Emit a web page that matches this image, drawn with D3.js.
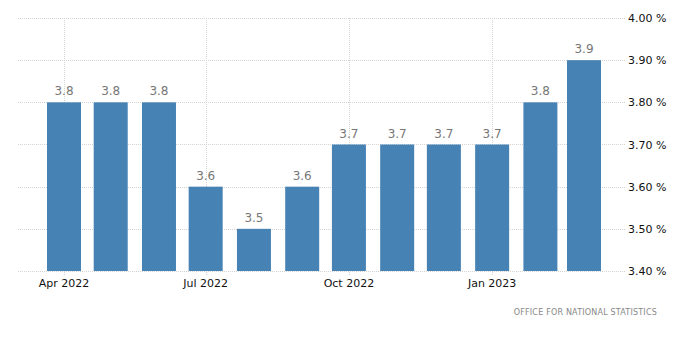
<!DOCTYPE html>
<html>
<head>
<meta charset="utf-8">
<script src="https://cdn.jsdelivr.net/npm/d3@7"></script>
<style>
  body { margin: 0; background: white; }
</style>
</head>
<body>
<div class="canvas"></div>
<script>
// data
const months = ["2022-04", "2022-05", "2022-06", "2022-07", "2022-08", "2022-09",
                "2022-10", "2022-11", "2022-12", "2023-01", "2023-02", "2023-03"];
const rates = [3.8, 3.8, 3.8, 3.6, 3.5, 3.6, 3.7, 3.7, 3.7, 3.7, 3.8, 3.9];
const xTicks = ["2022-04", "2022-07", "2022-10", "2023-01"];
const yTicks = [3.4, 3.5, 3.6, 3.7, 3.8, 3.9, 4.0];

const width = 700, height = 363;
const parse = d3.timeParse('%Y-%m');
const fmt = d3.timeFormat('%b %Y');

const svg = d3.select('.canvas')
  .append('svg')
    .attr('width', width)
    .attr('height', height)
    .style('font-family', "Tahoma, 'DejaVu Sans', sans-serif");

// scales (bars sit on real dates, so Feb is a bit narrower)
const x = d3.scaleTime()
  .domain([parse(months[0]), parse(months[months.length - 1])])
  .range([64, 584]);
const barWidth = 34;

const y = d3.scaleLinear()
  .domain([3.4, 4.0])
  .range([271, 18]);

const gridLeft = 18, gridRight = 625;

// horizontal grid
svg.append('g')
  .selectAll('line')
  .data(yTicks)
  .enter()
  .append('line')
    .attr('x1', gridLeft)
    .attr('x2', gridRight)
    .attr('y1', d => Math.round(y(d)) + 0.5)
    .attr('y2', d => Math.round(y(d)) + 0.5)
    .attr('stroke', '#d4d4d4')
    .attr('stroke-width', 1)
    .attr('stroke-dasharray', '1,1');

// vertical grid on tick months
svg.append('g')
  .selectAll('line')
  .data(xTicks)
  .enter()
  .append('line')
    .attr('x1', d => Math.round(x(parse(d))) + 0.5)
    .attr('x2', d => Math.round(x(parse(d))) + 0.5)
    .attr('y1', y(4.0))
    .attr('y2', y(3.4) + 4)
    .attr('stroke', '#d4d4d4')
    .attr('stroke-width', 1)
    .attr('stroke-dasharray', '1,1');

// bars
svg.append('g')
  .selectAll('rect')
  .data(months)
  .enter()
  .append('rect')
    .attr('x', d => x(parse(d)) - barWidth / 2)
    .attr('width', barWidth)
    .attr('y', (d, i) => y(rates[i]))
    .attr('height', (d, i) => y(3.4) - y(rates[i]))
    .attr('fill', '#4682b4');

// value labels
svg.append('g')
  .selectAll('text')
  .data(months)
  .enter()
  .append('text')
    .attr('x', d => x(parse(d)))
    .attr('y', (d, i) => y(rates[i]) - 7)
    .attr('text-anchor', 'middle')
    .style('font-size', '12px')
    .style('fill', '#777')
    .text((d, i) => rates[i].toFixed(1));

// y axis labels (right)
svg.append('g')
  .selectAll('text')
  .data(yTicks)
  .enter()
  .append('text')
    .attr('x', 628)
    .attr('y', d => y(d) + 4)
    .style('font-size', '11px')
    .style('fill', '#111')
    .text(d => d.toFixed(2) + ' %');

// x axis labels
svg.append('g')
  .selectAll('text')
  .data(xTicks)
  .enter()
  .append('text')
    .attr('x', d => x(parse(d)))
    .attr('y', 287)
    .attr('text-anchor', 'middle')
    .style('font-size', '11px')
    .style('fill', '#111')
    .text(d => fmt(parse(d)));

// source
svg.append('text')
  .attr('x', 657)
  .attr('y', 315)
  .attr('text-anchor', 'end')
  .style('font-size', '8px')
  .style('letter-spacing', '0.2px')
  .style('fill', '#888')
  .text('OFFICE FOR NATIONAL STATISTICS');
</script>
</body>
</html>
